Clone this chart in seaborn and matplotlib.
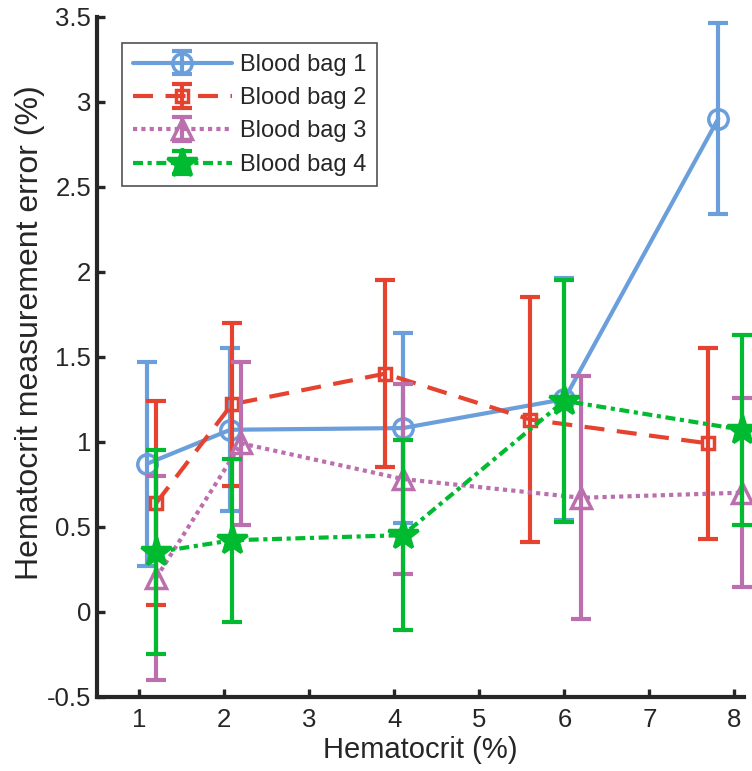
import matplotlib
matplotlib.use("Agg")
import matplotlib.pyplot as plt
from matplotlib.ticker import FormatStrFormatter, MultipleLocator
import seaborn as sns

# Hematocrit positions (slightly offset per bag, as in the figure)
x_bag1 = [1.09, 2.07, 4.10, 6.00, 7.81]
x_bag2 = [1.20, 2.09, 3.89, 5.60, 7.69]
x_bag3 = [1.20, 2.20, 4.10, 6.20, 8.09]
x_bag4 = [1.20, 2.09, 4.10, 6.00, 8.09]

# Measurement error (%) and error bar half-widths
y_bag1 = [0.87, 1.07, 1.08, 1.25, 2.90]
e_bag1 = [0.60, 0.48, 0.56, 0.71, 0.56]
y_bag2 = [0.64, 1.22, 1.40, 1.13, 0.99]
e_bag2 = [0.60, 0.48, 0.55, 0.72, 0.56]
y_bag3 = [0.20, 0.99, 0.78, 0.67, 0.70]
e_bag3 = [0.60, 0.48, 0.56, 0.715, 0.556]
y_bag4 = [0.35, 0.42, 0.45, 1.24, 1.07]
e_bag4 = [0.60, 0.48, 0.56, 0.71, 0.56]

labels = ["Blood bag 1", "Blood bag 2", "Blood bag 3", "Blood bag 4"]
colors = ["#6A9FDB", "#E5432F", "#BB6FAE", "#00BA2F"]

sns.set_theme(style="ticks")
plt.rcParams["font.family"] = ["Liberation Sans", "DejaVu Sans"]
plt.rcParams["axes.unicode_minus"] = False

fig = plt.figure(figsize=(7.52, 7.71), dpi=100)
ax = fig.add_axes([0.1287, 0.0964, 0.8604, 0.882])

series = [
    (x_bag1, y_bag1, e_bag1, dict(linestyle="-", marker="o", markersize=14, mfc="none")),
    (x_bag2, y_bag2, e_bag2, dict(linestyle=(0, (4.8, 3.0)), marker="s", markersize=9, mfc="none")),
    (x_bag3, y_bag3, e_bag3, dict(linestyle=(0, (1.0, 1.0)), marker="^", markersize=15, mfc="none")),
    (x_bag4, y_bag4, e_bag4, dict(linestyle=(0, (2.4, 1.1, 1.0, 1.1)), marker="*", markersize=22)),
]

handles = []
for (xs, ys, es, style), lab, c in zip(series, labels, colors):
    sns.lineplot(x=xs, y=ys, ax=ax, color=c, lw=3, mec=c, mew=2.5,
                 sort=False, errorbar=None, legend=False, clip_on=False, **style)
    line = ax.get_lines()[-1]
    eb = ax.errorbar(xs, ys, yerr=es, fmt="none", ecolor=c, elinewidth=3,
                     capsize=7, capthick=3)
    for art in eb.lines[1] + eb.lines[2]:
        art.set_clip_on(False)
    handles.append((line, eb))

ax.set_xlim(0.5, 8.11)
ax.set_ylim(-0.5, 3.5)
ax.xaxis.set_major_locator(MultipleLocator(1))
ax.yaxis.set_major_locator(MultipleLocator(0.5))
ax.yaxis.set_major_formatter(FormatStrFormatter("%g"))

ax.set_xlabel("Hematocrit (%)", fontsize=21, color="#262626", labelpad=3)
ax.set_ylabel("Hematocrit measurement error (%)", fontsize=23, color="#262626")
ax.yaxis.set_label_coords(-0.08, 0.535)
ax.tick_params(direction="in", length=6, width=2.4, labelsize=18.5,
               colors="#262626", pad=4)
ax.tick_params(axis="x", pad=8)
sns.despine(ax=ax, right=True, top=True)
for side in ["left", "bottom"]:
    ax.spines[side].set_linewidth(3)
    ax.spines[side].set_color("#262626")

leg = ax.legend(handles, labels, loc="upper left", bbox_to_anchor=(0.039, 0.961),
                borderaxespad=0, fontsize=17, handlelength=4.2, borderpad=0.45,
                handletextpad=0.35, labelspacing=0.48, frameon=True, fancybox=False)
leg.get_frame().set_edgecolor("#262626")
leg.get_frame().set_linewidth(1.2)

fig.savefig("out.png", dpi=100)
